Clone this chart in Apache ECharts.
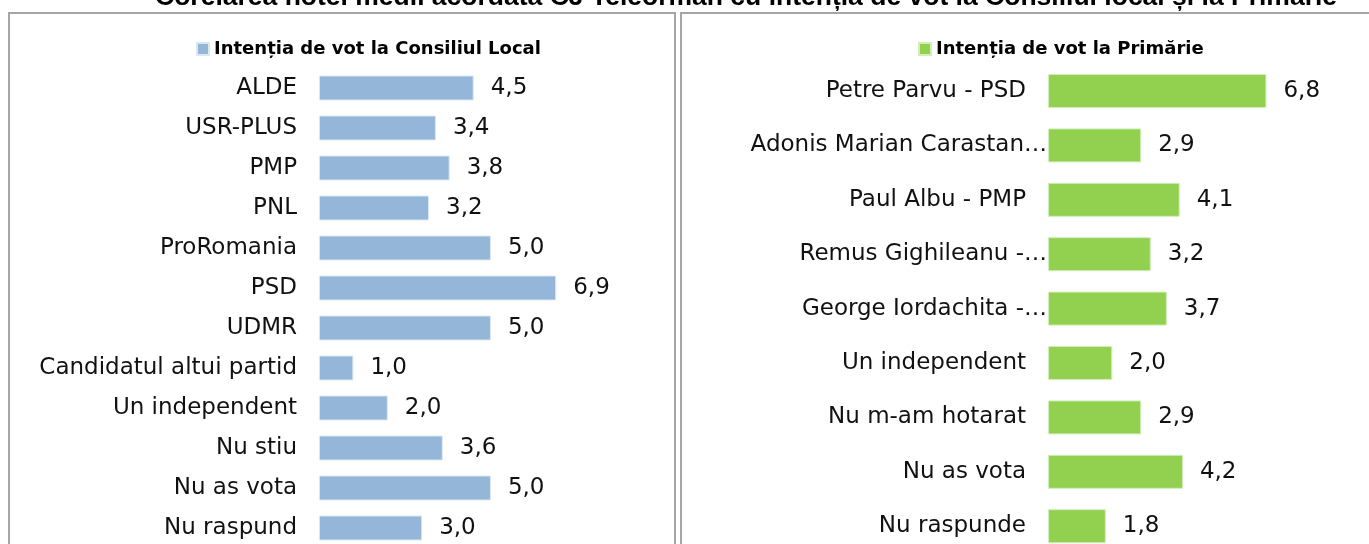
<!DOCTYPE html>
<html>
<head>
<meta charset="utf-8">
<script src="https://cdn.jsdelivr.net/npm/echarts@6/dist/echarts.min.js"></script>
<style>
  html, body { margin: 0; padding: 0; overflow: hidden; background: #fff; }
  #chart { width: 1369px; height: 570px; }
</style>
</head>
<body>
<div id="chart"></div>
<script>
  // date
  const titleText = 'Corelarea notei medii acordata CJ Teleorman cu intenția de vot la Consiliul local și la Primărie';
  const leftName = 'Intenția de vot la Consiliul Local';
  const rightName = 'Intenția de vot la Primărie';
  const leftCats = ['ALDE', 'USR-PLUS', 'PMP', 'PNL', 'ProRomania', 'PSD', 'UDMR',
    'Candidatul altui partid', 'Un independent', 'Nu stiu', 'Nu as vota', 'Nu raspund'];
  const leftVals = [4.5, 3.4, 3.8, 3.2, 5.0, 6.9, 5.0, 1.0, 2.0, 3.6, 5.0, 3.0];
  const rightCats = ['Petre Parvu - PSD', 'Adonis Marian Carastan…', 'Paul Albu - PMP',
    'Remus Gighileanu -…', 'George Iordachita -…', 'Un independent', 'Nu m-am hotarat',
    'Nu as vota', 'Nu raspunde'];
  const rightVals = [6.8, 2.9, 4.1, 3.2, 3.7, 2.0, 2.9, 4.2, 1.8];

  const font = 'DejaVu Sans';
  const blue = '#93B6D9';
  const green = '#92D050';

  const myChart = echarts.init(document.getElementById('chart'));

  const fmt = (p) => p.value.toFixed(1).replace('.', ',');

  // etichetele trunchiate (cu …) ajung pana la bara, ca in Excel
  const rightCatData = rightCats.map(c => c.endsWith('…')
    ? { value: c, textStyle: { padding: [0, -21, 0, 0] } }
    : c);

  const hiddenX = (idx) => ({
    type: 'value', gridIndex: idx, min: 0, max: 8,
    axisLine: { show: false }, axisTick: { show: false },
    axisLabel: { show: false }, splitLine: { show: false }
  });

  const option = {
    animation: false,
    title: {
      text: titleText,
      left: 150,
      top: -21,
      textStyle: { fontFamily: 'Liberation Sans', fontWeight: 'bold', fontSize: 26.5, color: '#000' }
    },
    graphic: [
      { type: 'rect', shape: { x: 9, y: 13, width: 666, height: 600 },
        style: { fill: 'none', stroke: '#a6a6a6', lineWidth: 2 }, silent: true },
      { type: 'rect', shape: { x: 681, y: 13, width: 700, height: 600 },
        style: { fill: 'none', stroke: '#a6a6a6', lineWidth: 2 }, silent: true }
    ],
    legend: [
      {
        data: [leftName], left: 191, top: 35, icon: 'rect', itemWidth: 12, itemHeight: 12,
        textStyle: { fontFamily: font, fontWeight: 'bold', fontSize: 18, color: '#000' }
      },
      {
        data: [rightName], left: 913, top: 35, icon: 'rect', itemWidth: 12, itemHeight: 12,
        textStyle: { fontFamily: font, fontWeight: 'bold', fontSize: 18, color: '#000' }
      }
    ],
    grid: [
      { left: 319, top: 68, width: 275, height: 480 },
      { left: 1048, top: 63.8, width: 257, height: 489.6 }
    ],
    xAxis: [hiddenX(0), hiddenX(1)],
    yAxis: [
      {
        type: 'category', gridIndex: 0, inverse: true, data: leftCats,
        axisLine: { show: false }, axisTick: { show: false },
        axisLabel: { margin: 22, fontFamily: font, fontSize: 23, color: '#111' }
      },
      {
        type: 'category', gridIndex: 1, inverse: true, data: rightCatData,
        axisLine: { show: false }, axisTick: { show: false },
        axisLabel: { margin: 22, fontFamily: font, fontSize: 23, color: '#111' }
      }
    ],
    series: [
      {
        name: leftName, type: 'bar', xAxisIndex: 0, yAxisIndex: 0,
        barWidth: '62.5%', data: leftVals,
        itemStyle: { color: blue, borderColor: '#dbe7f3', borderWidth: 1 },
        label: { show: true, position: 'right', distance: 17, formatter: fmt,
          fontFamily: font, fontSize: 23, color: '#111' }
      },
      {
        name: rightName, type: 'bar', xAxisIndex: 1, yAxisIndex: 1,
        barWidth: '62.5%', data: rightVals,
        itemStyle: { color: green, borderColor: '#d3efb8', borderWidth: 1 },
        label: { show: true, position: 'right', distance: 17, formatter: fmt,
          fontFamily: font, fontSize: 23, color: '#111' }
      }
    ]
  };

  myChart.setOption(option);
</script>
</body>
</html>
